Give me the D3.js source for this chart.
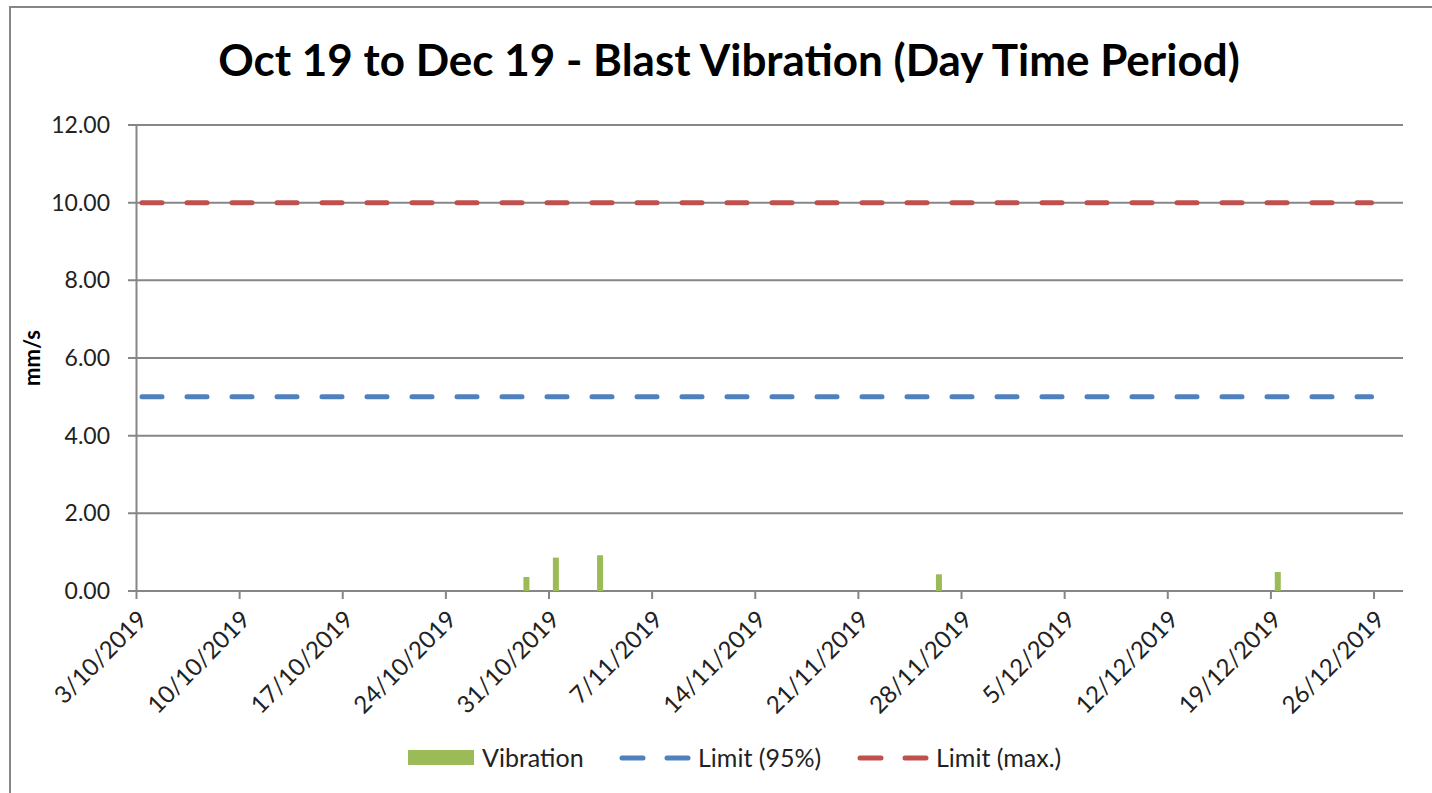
<!DOCTYPE html>
<html>
<head>
<meta charset="utf-8">
<script src="https://cdn.jsdelivr.net/npm/d3@7"></script>
<style>
  body { margin: 0; background: #fff; }
  svg { font-family: Lato, "Open Sans", sans-serif; }
</style>
</head>
<body>
<svg id="chart" width="1432" height="793"></svg>
<script>
// vibration readings (date, mm/s)
let blastDates = ['2019-10-29', '2019-10-31', '2019-11-03', '2019-11-26', '2019-12-19'];
let vibration = [0.36, 0.86, 0.92, 0.43, 0.49];
let limit95 = 5;
let limitMax = 10;
let tickDates = ['2019-10-03', '2019-10-10', '2019-10-17', '2019-10-24', '2019-10-31', '2019-11-07',
  '2019-11-14', '2019-11-21', '2019-11-28', '2019-12-05', '2019-12-12', '2019-12-19', '2019-12-26'];
let yTicks = [0, 2, 4, 6, 8, 10, 12];

let parse = d3.timeParse('%Y-%m-%d');
let svg = d3.select('#chart');

let margin = { left: 136, right: 1403, top: 125, bottom: 591 };

let x = d3.scaleTime()
  .domain([parse('2019-10-03'), parse('2019-12-28')])
  .range([margin.left, margin.right]);
let y = d3.scaleLinear()
  .domain([0, 12])
  .range([margin.bottom, margin.top]);

let grey = '#868686';

// outer chart border
svg.append('rect')
  .attr('x', 10).attr('y', 7)
  .attr('width', 1440).attr('height', 800)
  .attr('fill', 'none')
  .attr('stroke', grey)
  .attr('stroke-width', 2);

svg.append('text')
  .attr('x', 729).attr('y', 76)
  .attr('text-anchor', 'middle')
  .style('font-size', '44px')
  .style('font-weight', 'bold')
  .text('Oct 19 to Dec 19 - Blast Vibration (Day Time Period)');

// gridlines
svg.append('g')
  .selectAll('line')
  .data(yTicks)
  .enter().append('line')
  .attr('x1', margin.left - 8)
  .attr('x2', margin.right)
  .attr('y1', d => y(d))
  .attr('y2', d => y(d))
  .attr('stroke', grey)
  .attr('stroke-width', 2);

// y axis
let yAxis = svg.append('g')
  .attr('transform', `translate(${margin.left},0)`)
  .call(d3.axisLeft(y).tickValues(yTicks).tickFormat(d3.format('.2f')).tickSize(0).tickPadding(26));
yAxis.attr('font-family', null).attr('font-size', null);
yAxis.select('.domain').attr('stroke', grey).attr('stroke-width', 2);
yAxis.selectAll('text').style('font-size', '23px').attr('fill', '#222');

// x axis
let xAxis = svg.append('g')
  .attr('transform', `translate(0,${margin.bottom})`)
  .call(d3.axisBottom(x)
    .tickValues(tickDates.map(parse))
    .tickFormat(d3.timeFormat('%-d/%-m/%Y'))
    .tickSize(8).tickSizeOuter(0));
xAxis.attr('font-family', null).attr('font-size', null);
xAxis.select('.domain').remove();
xAxis.selectAll('line').attr('stroke', grey).attr('stroke-width', 2);
xAxis.selectAll('text')
  .style('font-size', '24px')
  .attr('fill', '#222')
  .attr('text-anchor', 'end')
  .attr('y', 0)
  .attr('dy', null)
  .attr('transform', 'translate(12,30) rotate(-45)');

svg.append('text')
  .attr('transform', 'translate(40,358) rotate(-90)')
  .attr('text-anchor', 'middle')
  .style('font-size', '22px')
  .style('font-weight', 'bold')
  .text('mm/s');

// limit lines
let lineStart = parse('2019-10-03');
let lineEnd = parse('2019-12-26');
[[limit95, '#4F81BD'], [limitMax, '#C0504D']].forEach(([v, c]) => {
  svg.append('line')
    .attr('x1', x(lineStart) + 6)
    .attr('x2', x(lineEnd) - 2)
    .attr('y1', y(v)).attr('y2', y(v))
    .attr('stroke', c)
    .attr('stroke-width', 5)
    .attr('stroke-linecap', 'round')
    .attr('stroke-dasharray', '20,25');
});

// vibration bars, centred on each day slot
let bw = 6;
svg.append('g')
  .selectAll('rect')
  .data(vibration)
  .enter().append('rect')
  .attr('x', (d, i) => x(d3.timeHour.offset(parse(blastDates[i]), 12)) - bw / 2)
  .attr('y', d => y(d))
  .attr('width', bw)
  .attr('height', d => y(0) - y(d))
  .attr('fill', '#9BBB59');

// legend
let legend = svg.append('g').style('font-size', '25px');
legend.append('rect')
  .attr('x', 408).attr('y', 750).attr('width', 66).attr('height', 15)
  .attr('fill', '#9BBB59');
legend.append('text').attr('x', 482).attr('y', 767).attr('fill', '#222').text('Vibration');
[[622, '#4F81BD', 'Limit (95%)'], [860, '#C0504D', 'Limit (max.)']].forEach(([lx, c, t]) => {
  legend.append('line')
    .attr('x1', lx).attr('x2', lx + 66)
    .attr('y1', 758).attr('y2', 758)
    .attr('stroke', c).attr('stroke-width', 5)
    .attr('stroke-linecap', 'round')
    .attr('stroke-dasharray', '21,24');
  legend.append('text').attr('x', lx + 76).attr('y', 767).attr('fill', '#222').text(t);
});
</script>
</body>
</html>
